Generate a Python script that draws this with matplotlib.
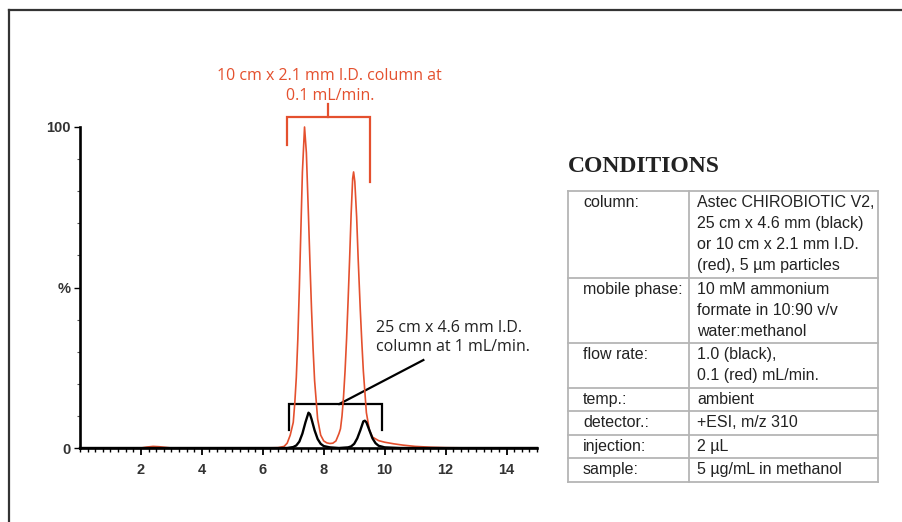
import matplotlib
matplotlib.use("Agg")
import matplotlib.pyplot as plt
from matplotlib.ticker import FixedLocator, FixedFormatter, MultipleLocator
from matplotlib.lines import Line2D

# ---------------- data ----------------
red_time = [0, 1, 2, 2.2, 2.4, 2.6, 2.8, 3, 4, 5, 6, 6.5, 6.7, 6.8, 6.9, 7.0, 7.05, 7.1, 7.15,
            7.2, 7.25, 7.3, 7.37, 7.43, 7.5, 7.55, 7.6, 7.65, 7.7, 7.8, 7.9, 8.0, 8.1, 8.2,
            8.3, 8.4, 8.5, 8.55, 8.6, 8.65, 8.7, 8.75, 8.8, 8.85, 8.9, 8.95, 8.98, 9.02, 9.08,
            9.13, 9.2, 9.25, 9.3, 9.4, 9.5, 9.6, 9.8, 10.0, 10.3, 10.6, 11.0, 11.5, 12, 13, 14, 15]
red_pct = [0, 0, 0, 0.3, 0.5, 0.4, 0.2, 0, 0, 0, 0, 0.1, 0.5, 1.5, 4, 8, 14, 22, 34,
           50, 68, 86, 100, 92, 72, 57, 43, 31, 21, 9, 4, 2.2, 1.6, 1.4,
           1.5, 2.2, 4.5, 6, 10, 16, 24, 34, 46, 59, 73, 84, 86, 83, 72,
           59, 43, 33, 24, 11, 5.5, 3.4, 2.3, 1.8, 1.3, 0.9, 0.5, 0.25, 0.1, 0, 0, 0]

black_time = [0, 2, 4, 6, 6.8, 7.0, 7.1, 7.2, 7.3, 7.4, 7.5, 7.55, 7.6, 7.7, 7.8, 7.9, 8.0,
              8.2, 8.5, 8.8, 8.9, 9.0, 9.1, 9.2, 9.3, 9.35, 9.4, 9.5, 9.6, 9.7, 9.8, 10.0,
              10.5, 12, 15]
black_pct = [0, 0, 0, 0, 0, 0.3, 0.8, 2, 4.5, 8, 11, 10.5, 9, 5.5, 2.8, 1.3, 0.6,
             0.2, 0, 0.2, 0.5, 1.3, 3, 5.5, 8.3, 8.5, 8, 5.5, 3, 1.5, 0.7, 0.2,
             0, 0, 0]

x_ticks = [2, 4, 6, 8, 10, 12, 14]
y_ticks = [0, 50, 100]
y_tick_labels = ["0", "%", "100"]

red_label = "10 cm x 2.1 mm I.D. column at\n0.1 mL/min."
black_label = "25 cm x 4.6 mm I.D.\ncolumn at 1 mL/min."

table_title = "CONDITIONS"
table_keys = ["column:", "mobile phase:", "flow rate:", "temp.:", "detector.:",
              "injection:", "sample:"]
table_vals = ["Astec CHIROBIOTIC V2,\n25 cm x 4.6 mm (black)\nor 10 cm x 2.1 mm I.D.\n(red), 5 µm particles",
              "10 mM ammonium\nformate in 10:90 v/v\nwater:methanol",
              "1.0 (black),\n0.1 (red) mL/min.",
              "ambient",
              "+ESI, m/z 310",
              "2 µL",
              "5 µg/mL in methanol"]

# ---------------- style ----------------
RED = "#e4502e"
W, H = 903, 522

fig = plt.figure(figsize=(W / 100, H / 100), dpi=100)
fig.patch.set_facecolor("white")

def fx(px):
    return px / W

def fy(py):
    return 1 - py / H

# outer frame (top and left edges visible)
fig.add_artist(Line2D([fx(9), fx(903)], [fy(10), fy(10)], color="#333333", lw=1.6,
                      transform=fig.transFigure))
fig.add_artist(Line2D([fx(9), fx(9)], [fy(10), fy(522)], color="#333333", lw=1.6,
                      transform=fig.transFigure))

# ---------------- chromatogram ----------------
x0_px, x15_px = 80, 537
y0_px, y100_px = 448, 127
ax = fig.add_axes([fx(x0_px), fy(y0_px), (x15_px - x0_px) / W, (y0_px - y100_px) / H])
ax.set_xlim(0, 15)
ax.set_ylim(0, 100)
ax.patch.set_alpha(0)
for s in ["top", "right"]:
    ax.spines[s].set_visible(False)
for s in ["left", "bottom"]:
    ax.spines[s].set_linewidth(1.9)
    ax.spines[s].set_color("black")

ax.plot(red_time, red_pct, color=RED, lw=1.2, clip_on=False, zorder=3)
ax.plot(black_time, black_pct, color="black", lw=1.7, clip_on=False, zorder=4)

ax.xaxis.set_major_locator(FixedLocator(x_ticks))
ax.xaxis.set_minor_locator(MultipleLocator(0.25))
ax.yaxis.set_major_locator(FixedLocator(y_ticks))
ax.yaxis.set_major_formatter(FixedFormatter(y_tick_labels))
ax.yaxis.set_minor_locator(MultipleLocator(10))
ax.tick_params(axis="x", which="major", length=5, width=1.3, direction="out",
               pad=6, labelsize=10.5, labelcolor="#333333")
ax.tick_params(axis="x", which="minor", length=3.2, width=1.0, direction="out")
ax.tick_params(axis="y", which="major", length=4, width=1.0, direction="out",
               pad=3, labelsize=10.5, labelcolor="#333333")
ax.tick_params(axis="y", which="minor", length=2.5, width=0.8, direction="out",
               color="#555555")
for lab in ax.get_xticklabels() + ax.get_yticklabels():
    lab.set_fontweight("bold")
    lab.set_fontfamily("Liberation Sans")

# red bracket + label
red_br_x = [6.81, 6.81, 9.52, 9.52]
red_br_y = [94.4, 103.2, 103.2, 83.0]
ax.plot(red_br_x, red_br_y, color=RED, lw=1.6, clip_on=False, solid_joinstyle="miter")
ax.plot([8.15, 8.15], [103.2, 107.2], color=RED, lw=1.6, clip_on=False)
ax.text(8.2, 112.7, red_label, color=RED, ha="center", va="center", fontsize=11.5,
        family="Open Sans", linespacing=1.3, clip_on=False)

# black bracket + leader + label
blk_br_x = [6.86, 6.86, 9.92, 9.92]
blk_br_y = [5.6, 13.7, 13.7, 5.6]
ax.plot(blk_br_x, blk_br_y, color="black", lw=1.6, clip_on=False, solid_joinstyle="miter")
ax.plot([8.51, 11.27], [13.7, 27.4], color="black", lw=1.6, clip_on=False)
ax.text(9.70, 34.3, black_label, color="#222222", ha="left", va="center", fontsize=11.5,
        family="Open Sans", linespacing=1.25, clip_on=False)

# ---------------- conditions table ----------------
fig.text(fx(568), fy(167), table_title, ha="left", va="center", fontsize=17,
         fontweight="bold", family="Liberation Serif", color="#222222")

t_left, t_mid, t_right = 568, 689, 878
t_top = 191
line_h, base_h = 21, 23.5
border = "#b5b5b5"

y = t_top
row_edges = [y]
for key, val in zip(table_keys, table_vals):
    lines = val.split("\n")
    h = (len(lines) - 1) * line_h + base_h
    first = y + base_h / 2
    fig.text(fx(583), fy(first), key, ha="left", va="center", fontsize=11.5,
             family="Liberation Sans", color="#222222")
    for i, ln in enumerate(lines):
        fig.text(fx(697), fy(first + i * line_h), ln, ha="left", va="center",
                 fontsize=11.5, family="Liberation Sans", color="#222222")
    y += h
    row_edges.append(y)

for e in row_edges:
    fig.add_artist(Line2D([fx(t_left), fx(t_right)], [fy(e), fy(e)], color=border,
                          lw=1.3, transform=fig.transFigure))
for xv in (t_left, t_mid, t_right):
    fig.add_artist(Line2D([fx(xv), fx(xv)], [fy(row_edges[0]), fy(row_edges[-1])],
                          color=border, lw=1.3, transform=fig.transFigure))

fig.savefig("out.png", dpi=100, facecolor="white")
